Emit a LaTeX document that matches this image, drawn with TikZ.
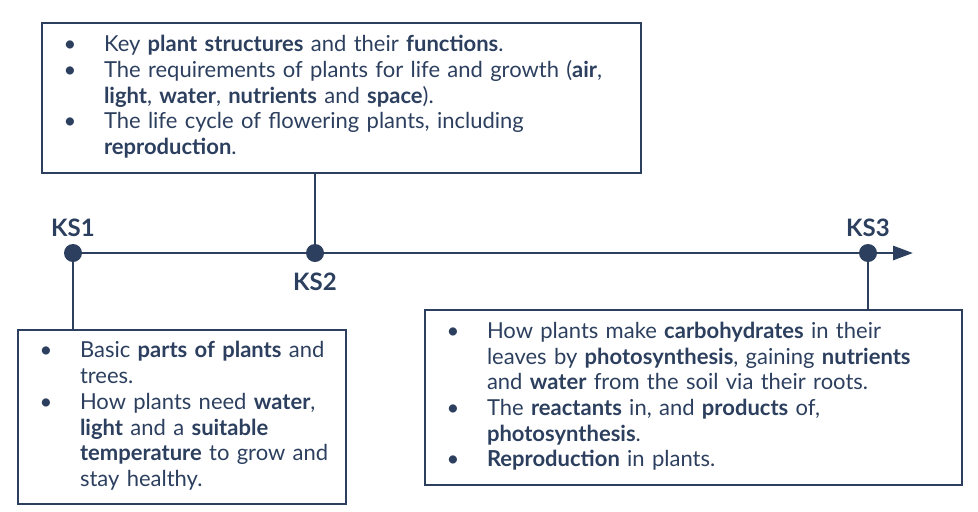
\documentclass[tikz,border=0pt]{standalone}
\usepackage{fontspec}
\setmainfont{Lato}
\usepackage{array}
\usetikzlibrary{arrows.meta,positioning}
\definecolor{ksblue}{HTML}{2C3F5E}

\tikzset{
  infobox/.style={draw=ksblue,line width=1.5pt,inner xsep=0pt,inner ysep=0pt,
    text=ksblue,anchor=north west,align=left,
    font=\fontsize{16.5}{19.3}\selectfont},
  stage/.style={circle,fill=ksblue,inner sep=0pt,minimum size=13.5pt},
  stagelabel/.style={text=ksblue,inner sep=0pt,
    font=\fontsize{18}{22}\selectfont\bfseries},
  link/.style={draw=ksblue,line width=2.2pt}
}
\newcolumntype{B}{@{}wc{42pt}@{\hspace{4.5pt}}l@{}}

\begin{document}
\begin{tikzpicture}[x=0.75pt,y=-0.75pt]
\useasboundingbox (0,0) rectangle (978,511);
% key stages on the line
\node[stage] (ks1) at (73,253) {};
\node[stage] (ks2) at (315,253) {};
\node[stage] (ks3) at (868,253) {};
\coordinate (end) at (913,253);
\node[stagelabel,above=5pt of ks1] (l1) {KS1};
\node[stagelabel,below=8pt of ks2] (l2) {KS2};
\node[stagelabel,above=5pt of ks3] (l3) {KS3};
% boxes
\node[infobox,text width=449.25pt,minimum height=112.5pt] (ks2box) at (41,22) {%
\begin{tabular}{B}
\textbullet & Key \textbf{plant structures} and their \textbf{functions}.\\
\textbullet & The requirements of plants for life and growth (\textbf{air},\\
 & \textbf{light}, \textbf{water}, \textbf{nutrients} and \textbf{space}).\\
\textbullet & The life cycle of flowering plants, including\\
 & \textbf{reproduction}.
\end{tabular}};
\node[infobox,text width=246pt,minimum height=130.5pt] (ks1box) at (17,329) {%
\begin{tabular}{B}
\textbullet & Basic \textbf{parts of plants} and\\
 & trees.\\
\textbullet & How plants need \textbf{water},\\
 & \textbf{light} and a \textbf{suitable}\\
 & \textbf{temperature} to grow and\\
 & stay healthy.
\end{tabular}};
\node[infobox,text width=402.75pt,minimum height=131.25pt] (ks3box) at (424,309) {%
\begin{tabular}{B}
\textbullet & How plants make \textbf{carbohydrates} in their\\
 & leaves by \textbf{photosynthesis}, gaining \textbf{nutrients}\\
 & and \textbf{water} from the soil via their roots.\\
\textbullet & The \textbf{reactants} in, and \textbf{products} of,\\
 & \textbf{photosynthesis}.\\
\textbullet & \textbf{Reproduction} in plants.
\end{tabular}};
% connectors
\draw[link] (ks1) -- (ks2) -- (ks3);
\draw[link,-{Triangle[length=15pt,width=10.5pt]}] (ks3) -- (end);
\draw[link] (ks2) -- (ks2 |- ks2box.south);
\draw[link] (ks1) -- (ks1 |- ks1box.north);
\draw[link] (ks3) -- (ks3 |- ks3box.north);
\end{tikzpicture}
\end{document}
